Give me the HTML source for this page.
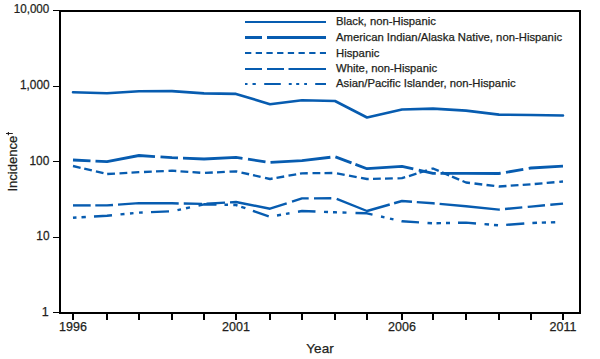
<!DOCTYPE html>
<html><head><meta charset="utf-8"><style>
html,body{margin:0;padding:0;background:#fff;width:600px;height:359px;overflow:hidden}
svg{display:block}
text{font-family:"Liberation Sans",sans-serif;stroke:#231f20;stroke-width:0.25px}
</style></head><body>
<svg width="600" height="359" viewBox="0 0 600 359">
<rect width="600" height="359" fill="#fff"/>
<g fill="#000">
<rect x="59" y="10" width="522" height="2"/>
<rect x="59" y="312" width="522" height="2"/>
<rect x="59" y="10" width="2" height="304"/>
<rect x="579" y="10" width="2" height="304"/>
<rect x="53" y="10" width="6" height="1"/>
<rect x="53" y="86" width="6" height="1"/>
<rect x="53" y="161" width="6" height="1"/>
<rect x="53" y="237" width="6" height="1"/>
<rect x="53" y="312" width="6" height="1"/>
<rect x="72" y="313" width="2" height="7"/><rect x="106" y="313" width="2" height="7"/><rect x="138" y="313" width="2" height="7"/><rect x="171" y="313" width="2" height="7"/><rect x="203" y="313" width="2" height="7"/><rect x="235" y="313" width="2" height="7"/><rect x="269" y="313" width="2" height="7"/><rect x="301" y="313" width="2" height="7"/><rect x="334" y="313" width="2" height="7"/><rect x="366" y="313" width="2" height="7"/><rect x="401" y="313" width="2" height="7"/><rect x="432" y="313" width="2" height="7"/><rect x="465" y="313" width="2" height="7"/><rect x="498" y="313" width="2" height="7"/><rect x="530" y="313" width="2" height="7"/><rect x="562" y="313" width="2" height="7"/>
</g>
<g fill="#231f20" font-family="Liberation Sans, sans-serif" font-size="12.5" text-anchor="end">
<text transform="translate(49.3,13) scale(0.93,1)">10,000</text>
<text transform="translate(49.6,89) scale(0.95,1)">1,000</text>
<text transform="translate(49.3,164.7) scale(0.95,1)">100</text>
<text transform="translate(49.5,240) scale(0.95,1)">10</text>
<text transform="translate(48.6,315.6)">1</text>
</g>
<g fill="#231f20" font-family="Liberation Sans, sans-serif" font-size="12.5" text-anchor="middle">
<text x="73" y="331">1996</text>
<text x="236" y="331">2001</text>
<text x="402" y="331">2006</text>
<text x="563" y="331">2011</text>
<text x="320" y="352.7" font-size="13.5">Year</text>
<text transform="translate(16.7,163.7) rotate(-90)" font-size="13">Incidence</text>
</g>
<g stroke="#231f20" fill="none"><line x1="6" y1="133.5" x2="12.8" y2="133.5" stroke-width="1"/><line x1="8.4" y1="131.9" x2="8.4" y2="135.2" stroke-width="1.1"/></g>
<g fill="none" stroke="#075cb0" stroke-linejoin="round">
<polyline points="73,92.3 107,93.2 139,91.3 172,91.1 204,93.4 236,93.9 270,104.2 302,100.2 335,101 367,117.5 402,109.5 433,108.6 466,110.6 499,114.6 531,115 563,115.5" stroke-width="2.6" stroke-linecap="round"/>
<polyline points="73.00,160.00 90.50,160.82" stroke-width="2.8"/>
<polyline points="95.50,161.06 107.00,161.60 139.00,155.50 155.00,156.57" stroke-width="2.8"/>
<polyline points="160.50,156.93 172.00,157.70 178.00,157.94" stroke-width="2.8"/>
<polyline points="183.00,158.15 204.00,159.00 236.00,157.30 242.50,158.29" stroke-width="2.8"/>
<polyline points="248.00,159.14 265.50,161.81" stroke-width="2.8"/>
<polyline points="270.50,162.47 302.00,160.70 330.40,157.26" stroke-width="2.8"/>
<polyline points="335.40,156.85 351.50,162.89" stroke-width="2.8"/>
<polyline points="355.40,164.35 367.00,168.70 402.00,166.30 413.30,168.89" stroke-width="2.8"/>
<polyline points="418.75,170.14 433.00,173.40 435.80,173.39" stroke-width="2.8"/>
<polyline points="440.50,173.38 466.00,173.30 499.00,173.50 500.70,173.21" stroke-width="2.8"/>
<polyline points="506.00,172.30 523.30,169.32" stroke-width="2.8"/>
<polyline points="528.70,168.40 531.00,168.00 563.00,166.20" stroke-width="2.8"/>
<polyline points="73.00,166.00 80.59,167.79" stroke-width="2.35"/>
<polyline points="84.25,168.65 91.84,170.43" stroke-width="2.35"/>
<polyline points="95.90,171.39 103.49,173.17" stroke-width="2.35"/>
<polyline points="107.20,173.99 114.99,173.55" stroke-width="2.35"/>
<polyline points="119.50,173.30 127.29,172.86" stroke-width="2.35"/>
<polyline points="131.50,172.62 139.00,172.20 139.29,172.19" stroke-width="2.35"/>
<polyline points="144.00,171.97 151.79,171.62" stroke-width="2.35"/>
<polyline points="156.00,171.43 163.79,171.07" stroke-width="2.35"/>
<polyline points="168.50,170.86 172.00,170.70 176.29,171.01" stroke-width="2.35"/>
<polyline points="180.50,171.31 188.28,171.87" stroke-width="2.35"/>
<polyline points="192.50,172.17 200.28,172.73" stroke-width="2.35"/>
<polyline points="205.00,172.95 212.79,172.53" stroke-width="2.35"/>
<polyline points="217.00,172.31 224.79,171.90" stroke-width="2.35"/>
<polyline points="229.50,171.65 236.00,171.30 237.26,171.59" stroke-width="2.35"/>
<polyline points="241.50,172.55 249.11,174.27" stroke-width="2.35"/>
<polyline points="253.00,175.15 260.61,176.87" stroke-width="2.35"/>
<polyline points="265.00,177.87 270.00,179.00 272.63,178.53" stroke-width="2.35"/>
<polyline points="276.50,177.84 284.18,176.47" stroke-width="2.35"/>
<polyline points="288.50,175.70 296.18,174.34" stroke-width="2.35"/>
<polyline points="300.00,173.66 302.00,173.30 307.77,173.25" stroke-width="2.35"/>
<polyline points="312.50,173.20 320.30,173.13" stroke-width="2.35"/>
<polyline points="324.50,173.10 332.30,173.02" stroke-width="2.35"/>
<polyline points="337.00,173.38 344.67,174.81" stroke-width="2.35"/>
<polyline points="349.00,175.62 356.67,177.06" stroke-width="2.35"/>
<polyline points="361.00,177.88 367.00,179.00 368.69,178.96" stroke-width="2.35"/>
<polyline points="373.00,178.86 380.80,178.68" stroke-width="2.35"/>
<polyline points="385.00,178.59 392.80,178.41" stroke-width="2.35"/>
<polyline points="397.50,178.30 402.00,178.20 405.15,177.21" stroke-width="2.35"/>
<polyline points="409.00,176.01 416.44,173.68" stroke-width="2.35"/>
<polyline points="419.50,172.72 426.94,170.39" stroke-width="2.35"/>
<polyline points="431.50,168.97 433.00,168.50 438.73,170.93" stroke-width="2.35"/>
<polyline points="442.00,172.32 449.18,175.36" stroke-width="2.35"/>
<polyline points="452.00,176.56 459.18,179.61" stroke-width="2.35"/>
<polyline points="462.50,181.02 466.00,182.50 469.97,182.98" stroke-width="2.35"/>
<polyline points="474.50,183.53 482.24,184.47" stroke-width="2.35"/>
<polyline points="486.50,184.98 494.24,185.92" stroke-width="2.35"/>
<polyline points="498.70,186.46 499.00,186.50 506.48,185.99" stroke-width="2.35"/>
<polyline points="510.70,185.70 518.48,185.16" stroke-width="2.35"/>
<polyline points="522.70,184.87 530.48,184.34" stroke-width="2.35"/>
<polyline points="534.70,183.98 542.47,183.30" stroke-width="2.35"/>
<polyline points="546.70,182.93 554.47,182.25" stroke-width="2.35"/>
<polyline points="559.30,181.82 563.00,181.50" stroke-width="2.35"/>
<polyline points="73.00,205.40 90.70,205.40" stroke-width="2.4"/>
<polyline points="95.30,205.40 107.00,205.40 113.00,204.97" stroke-width="2.4"/>
<polyline points="118.00,204.61 139.00,203.10 172.00,203.30 178.70,203.43" stroke-width="2.4"/>
<polyline points="183.75,203.52 202.00,203.86" stroke-width="2.4"/>
<polyline points="206.50,203.75 225.00,202.65" stroke-width="2.4"/>
<polyline points="230.00,202.36 236.00,202.00 270.00,208.70 286.70,203.32" stroke-width="2.4"/>
<polyline points="292.00,201.62 302.00,198.40 308.70,198.36" stroke-width="2.4"/>
<polyline points="314.00,198.33 331.30,198.22" stroke-width="2.4"/>
<polyline points="336.70,198.88 367.00,211.00 389.75,204.50" stroke-width="2.4"/>
<polyline points="394.10,203.26 402.00,201.00 412.00,201.74" stroke-width="2.4"/>
<polyline points="416.80,202.10 433.00,203.30 434.70,203.45" stroke-width="2.4"/>
<polyline points="439.60,203.88 466.00,206.20 499.00,209.60 499.80,209.53" stroke-width="2.4"/>
<polyline points="505.00,209.04 522.30,207.42" stroke-width="2.4"/>
<polyline points="527.70,206.91 531.00,206.60 545.00,205.29" stroke-width="2.4"/>
<polyline points="550.30,204.79 563.00,203.60" stroke-width="2.4"/>
<polyline points="73.00,217.70 76.50,217.49" stroke-width="2.4"/>
<polyline points="81.50,217.20 85.80,216.95" stroke-width="2.4"/>
<polyline points="94.00,216.46 107.00,215.70 112.00,215.22" stroke-width="2.4"/>
<polyline points="120.50,214.39 124.50,214.00" stroke-width="2.4"/>
<polyline points="130.00,213.47 133.50,213.13" stroke-width="2.4"/>
<polyline points="139.00,212.60 142.70,212.45" stroke-width="2.4"/>
<polyline points="151.00,212.13 169.00,211.42" stroke-width="2.4"/>
<polyline points="177.50,210.10 181.00,209.33" stroke-width="2.4"/>
<polyline points="186.00,208.24 190.00,207.36" stroke-width="2.4"/>
<polyline points="198.50,205.50 204.00,204.30 216.50,204.57" stroke-width="2.4"/>
<polyline points="224.50,204.75 228.00,204.82" stroke-width="2.4"/>
<polyline points="233.30,204.94 236.00,205.00 237.50,205.52" stroke-width="2.4"/>
<polyline points="241.25,206.81 245.40,208.23" stroke-width="2.4"/>
<polyline points="252.90,210.82 268.75,216.27" stroke-width="2.4"/>
<polyline points="277.00,215.45 281.00,214.74" stroke-width="2.4"/>
<polyline points="286.00,213.85 289.50,213.23" stroke-width="2.4"/>
<polyline points="298.00,211.71 302.00,211.00 315.50,211.53" stroke-width="2.4"/>
<polyline points="324.00,211.87 328.00,212.02" stroke-width="2.4"/>
<polyline points="333.00,212.22 335.00,212.30 337.00,212.36" stroke-width="2.4"/>
<polyline points="342.50,212.53 346.50,212.66" stroke-width="2.4"/>
<polyline points="355.50,212.94 367.00,213.30 372.50,214.56" stroke-width="2.4"/>
<polyline points="381.00,216.50 384.50,217.30" stroke-width="2.4"/>
<polyline points="390.00,218.56 393.50,219.36" stroke-width="2.4"/>
<polyline points="401.50,221.19 402.00,221.30 419.00,222.40" stroke-width="2.4"/>
<polyline points="427.50,222.95 432.00,223.24" stroke-width="2.4"/>
<polyline points="436.50,223.23 441.00,223.13" stroke-width="2.4"/>
<polyline points="446.00,223.02 450.00,222.94" stroke-width="2.4"/>
<polyline points="458.00,222.77 466.00,222.60 476.00,223.45" stroke-width="2.4"/>
<polyline points="484.50,224.17 489.00,224.55" stroke-width="2.4"/>
<polyline points="494.00,224.98 498.00,225.32" stroke-width="2.4"/>
<polyline points="506.20,224.86 524.30,223.50" stroke-width="2.4"/>
<polyline points="532.40,222.96 537.00,222.81" stroke-width="2.4"/>
<polyline points="541.80,222.66 546.00,222.53" stroke-width="2.4"/>
<polyline points="550.90,222.38 555.20,222.24" stroke-width="2.4"/>
</g>
<g fill="none" stroke="#075cb0">
<line x1="245" y1="22" x2="326" y2="22" stroke-width="2"/>
<line x1="245" y1="37.5" x2="326" y2="37.5" stroke-width="3" stroke-dasharray="17 5 60 5"/>
<line x1="245" y1="53" x2="326" y2="53" stroke-width="2" stroke-dasharray="6.3 4.4"/>
<line x1="245" y1="69" x2="326" y2="69" stroke-width="2" stroke-dasharray="17 5 17 4.5 60 5"/>
<line x1="245" y1="84" x2="326" y2="84" stroke-width="2" stroke-dasharray="2.5 5 3.3 8.4 16.6 8 2.9 4.5 3 5 2.8 8.2 16.6 20"/>
</g>
<g fill="#231f20" font-family="Liberation Sans, sans-serif" font-size="11.3">
<text x="336" y="25.3">Black, non-Hispanic</text>
<text x="336" y="41.2">American Indian/Alaska Native, non-Hispanic</text>
<text x="336" y="57">Hispanic</text>
<text x="336" y="72.4">White, non-Hispanic</text>
<text x="336" y="87.4">Asian/Pacific Islander, non-Hispanic</text>
</g>
</svg>
</body></html>
